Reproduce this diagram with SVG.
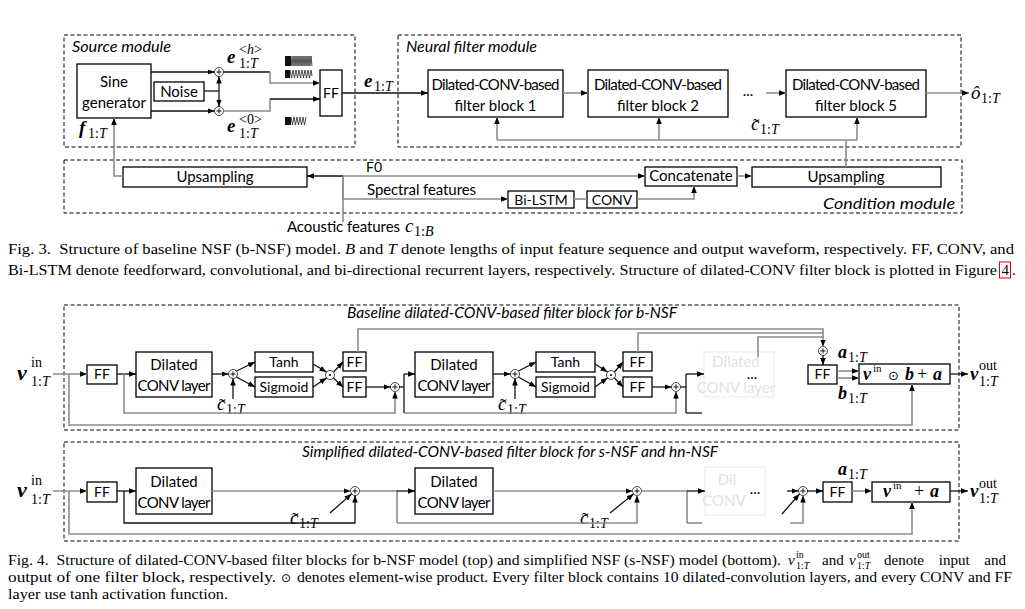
<svg xmlns="http://www.w3.org/2000/svg" xmlns:xlink="http://www.w3.org/1999/xlink" width="1025" height="609" viewBox="0 0 1025 609">
<defs>
<marker id="ah" viewBox="0 0 10 8" refX="10" refY="4" markerWidth="7" markerHeight="5.6" markerUnits="userSpaceOnUse" orient="auto"><path d="M0,0 L10,4 L0,8 z" fill="#000"/></marker>
<g id="plus"><circle cx="0" cy="0" r="4.5" fill="#fff" stroke="#444" stroke-width="1"/><path d="M-2.6,0 H2.6 M0,-2.6 V2.6" stroke="#000" stroke-width="0.9"/></g>
<g id="dotp"><circle cx="0" cy="0" r="4.5" fill="#fff" stroke="#444" stroke-width="1"/><circle cx="0" cy="0" r="1" fill="#000"/></g>
</defs>
<style>
.bx{fill:#fff;stroke:#000;stroke-width:1.3}
.fb{fill:#fff;stroke:#eeeeee;stroke-width:1.3}
.dsh{fill:none;stroke:#000;stroke-width:1;stroke-dasharray:4 2.5}
.k{fill:none;stroke:#111;stroke-width:1.3}
.g{fill:none;stroke:#8c8c8c;stroke-width:1.6}
.a{marker-end:url(#ah)}
.t{font-family:Lato,"Open Sans",sans-serif;font-size:15px;fill:#000;text-anchor:middle}
.s{font-size:14px}
.st{text-anchor:start}
.ft{fill:#e2e2e2}
.it{font-family:Lato,"Open Sans",sans-serif;font-size:15px;font-style:italic;fill:#000}
.m{font-family:"Liberation Serif","Times New Roman",serif;font-style:italic;fill:#000}
.mb{font-weight:bold}
.n{font-style:normal}
.X{font-size:22px}
.L{font-size:19px}
.M{font-size:18px}
.P{font-size:14px}
.T{font-size:14px}
.S{font-size:14px}
.U{font-size:11px}
.cap{font-family:"Liberation Serif","Times New Roman",serif;fill:#000}
.c15{font-size:15px}
.c10{font-size:10px}
.sym{font-family:"DejaVu Sans",sans-serif;fill:#000}
.wv{fill:none;stroke:#222;stroke-width:0.8}
</style>

<!-- ================= Fig. 3 ================= -->
<g id="source-module">
<rect class="dsh" x="64" y="35" width="291" height="112"/>
<text class="it" x="72" y="52" textLength="99" lengthAdjust="spacingAndGlyphs">Source module</text>
</g>
<g id="neural-filter-module">
<rect class="dsh" x="398" y="35" width="563" height="112"/>
<text class="it" x="406" y="52" textLength="131" lengthAdjust="spacingAndGlyphs">Neural filter module</text>
</g>
<g id="condition-module">
<rect class="dsh" x="64" y="160" width="898" height="53"/>
<text class="it" x="955" y="209" text-anchor="end" textLength="132" lengthAdjust="spacingAndGlyphs">Condition module</text>
</g>

<g id="sine-generator"><rect class="bx" x="77" y="64" width="74" height="54"/><text class="t" x="114" y="87">Sine</text><text class="t" x="114" y="108">generator</text></g>
<g id="noise"><rect class="bx" x="154" y="82" width="50" height="19"/><text class="t" x="179" y="97">Noise</text></g>
<g id="adder-h"><use xlink:href="#plus" x="219" y="72"/></g>
<g id="adder-0"><use xlink:href="#plus" x="219" y="111"/></g>
<g id="ff-source"><rect class="bx" x="320" y="70" width="22" height="46"/><text class="t s" x="331" y="98">FF</text></g>

<g id="waveforms">
<rect x="285" y="56" width="6" height="10" fill="#111"/>
<polyline class="wv" points="291,56 292,66 293,56 294,66 295,56 296,66 297,56 298,66 299,56 300,66 301,56 302,66 303,56 304,66 305,56 306,66 307,56 308,66 309,56 310,66 311,56 312,66"/>
<rect x="285" y="70" width="5" height="8" fill="#111"/>
<polyline class="wv" points="290,70 291.5,78 293,70 294.5,78 296,70 297.5,78 299,70 300.5,78 302,70 303.5,78 305,70 306.5,78 308,70 309.5,78 311,70 312,76"/>
<rect x="285" y="117" width="6" height="8" fill="#111"/>
<polyline class="wv" points="291,117 292.5,125 294,117 295.5,125 297,117 298.5,125 300,117 301.5,125 303,117 304.5,125 306,117"/>
</g>

<g id="nf-block1"><rect class="bx" x="428" y="70" width="135" height="47"/><text class="t" x="495.5" y="90" textLength="128">Dilated-CONV-based</text><text class="t" x="495.5" y="111">filter block 1</text></g>
<g id="nf-block2"><rect class="bx" x="588" y="70" width="140" height="47"/><text class="t" x="658" y="90" textLength="128">Dilated-CONV-based</text><text class="t" x="658" y="111">filter block 2</text></g>
<g id="nf-dots"><text class="t" x="748" y="96">...</text></g>
<g id="nf-block5"><rect class="bx" x="786" y="70" width="140" height="47"/><text class="t" x="856" y="90" textLength="128">Dilated-CONV-based</text><text class="t" x="856" y="111">filter block 5</text></g>

<g id="upsampling-f0"><rect class="bx" x="123" y="167" width="184" height="20"/><text class="t" x="215" y="182">Upsampling</text></g>
<g id="concatenate"><rect class="bx" x="645" y="167" width="92" height="19"/><text class="t" x="691" y="181">Concatenate</text></g>
<g id="upsampling-cond"><rect class="bx" x="752" y="167" width="189" height="20"/><text class="t" x="846" y="182">Upsampling</text></g>
<g id="bi-lstm"><rect class="bx" x="508" y="191" width="66" height="17"/><text class="t s" x="541" y="205">Bi-LSTM</text></g>
<g id="conv"><rect class="bx" x="587" y="191" width="50" height="17"/><text class="t s" x="612" y="205">CONV</text></g>

<g id="fig3-labels">
<text class="m mb L" x="227" y="63">e</text>
<text class="m P" x="239" y="54"><tspan class="n">&lt;</tspan>h<tspan class="n">&gt;</tspan></text>
<text class="m S" x="239" y="68"><tspan class="n">1:</tspan>T</text>
<text class="m mb L" x="227" y="132">e</text>
<text class="m P n" x="239" y="124">&lt;0&gt;</text>
<text class="m S" x="239" y="138"><tspan class="n">1:</tspan>T</text>
<text class="m mb L" x="79" y="134">f</text>
<text class="m S" x="88" y="138"><tspan class="n">1:</tspan>T</text>
<text class="m mb L" x="364" y="87">e</text>
<text class="m S" x="374" y="91"><tspan class="n">1:</tspan>T</text>
<text class="m L" x="971" y="99">ô</text>
<text class="m S" x="981" y="103"><tspan class="n">1:</tspan>T</text>
<text class="m L" x="751" y="130">c</text>
<text class="m n L" x="753" y="132">˜</text>
<text class="m S" x="760" y="134"><tspan class="n">1:</tspan>T</text>
<text class="t s" x="374" y="172">F0</text>
<text class="t st" x="367" y="195" textLength="109">Spectral features</text>
<text class="t st" x="287" y="232" textLength="113">Acoustic features</text>
<text class="m L" x="405" y="232">c</text>
<text class="m S" x="414" y="236"><tspan class="n">1:</tspan>B</text>
</g>

<g id="fig3-connectors">
<path class="k a" d="M151,72 H214.5"/>
<path class="k a" d="M151,111 H214.5"/>
<path class="k" d="M204,91 H219"/>
<path class="k a" d="M219,91 V76.5"/>
<path class="k a" d="M219,91 V106.5"/>
<path class="k" d="M223.5,72 H270"/>
<path class="g a" d="M270,72 V83 H320"/>
<path class="g" d="M223.5,111 H270 V99"/>
<path class="k a" d="M270,99 H320"/>
<path class="k a" d="M342,93 H428"/>
<path class="g a" d="M563,93 H588"/>
<path class="g a" d="M766,93 H786"/>
<path class="g a" d="M926,93 H969"/>
<path class="g" d="M846,167 V140"/>
<path class="g" d="M497,140 H857"/>
<path class="g a" d="M497,140 V117"/>
<path class="g a" d="M659,140 V117"/>
<path class="g a" d="M857,140 V117"/>
<path class="g a" d="M123,176 H114 V118"/>
<path class="g" d="M343,222 V176"/>
<path class="k a" d="M343,176 H307"/>
<path class="g a" d="M343,176 H645"/>
<path class="g a" d="M343,176 V199 H508"/>
<path class="g" d="M574,199 H587"/>
<path class="g a" d="M637,199 H694 V186"/>
<path class="g a" d="M737,176 H752"/>
</g>

<!-- ================= Fig. 3 caption ================= -->
<g id="caption-fig3">
<text class="cap c15" x="8" y="254" textLength="1006" lengthAdjust="spacingAndGlyphs">Fig. 3.&#160; Structure of baseline NSF (b-NSF) model. <tspan font-style="italic">B</tspan> and <tspan font-style="italic">T</tspan> denote lengths of input feature sequence and output waveform, respectively. FF, CONV, and</text>
<text class="cap c15" x="8" y="275" textLength="989" lengthAdjust="spacingAndGlyphs">Bi-LSTM denote feedforward, convolutional, and bi-directional recurrent layers, respectively. Structure of dilated-CONV filter block is plotted in Figure</text>
<rect x="999.5" y="262" width="11" height="16" fill="none" stroke="#d00" stroke-width="1"/>
<text class="cap c15" x="1001.5" y="275">4</text>
<text class="cap c15" x="1012" y="275">.</text>
</g>

<!-- ================= Fig. 4 top (baseline) ================= -->
<g id="baseline-block-frame">
<rect class="dsh" x="64" y="305" width="895" height="125"/>
<text class="it" x="347" y="318" textLength="330" lengthAdjust="spacingAndGlyphs">Baseline dilated-CONV-based filter block for b-NSF</text>
</g>
<g id="b-ff-in"><rect class="bx" x="87" y="365" width="30" height="19"/><text class="t s" x="102" y="379">FF</text></g>
<g id="b-dilated1"><rect class="bx" x="136" y="352" width="76" height="45"/><text class="t" x="174" y="370">Dilated</text><text class="t" x="174" y="391" textLength="73">CONV layer</text></g>
<g id="b-add1"><use xlink:href="#plus" x="233" y="374"/></g>
<g id="b-tanh1"><rect class="bx" x="255" y="352" width="58" height="20"/><text class="t s" x="284" y="367">Tanh</text></g>
<g id="b-sigmoid1"><rect class="bx" x="255" y="377" width="58" height="20"/><text class="t s" x="284" y="392">Sigmoid</text></g>
<g id="b-dot1"><use xlink:href="#dotp" x="330" y="375"/></g>
<g id="b-ff1a"><rect class="bx" x="343" y="352" width="23" height="19"/><text class="t s" x="354.5" y="367">FF</text></g>
<g id="b-ff1b"><rect class="bx" x="343" y="377" width="23" height="20"/><text class="t s" x="354.5" y="392">FF</text></g>
<g id="b-res1"><use xlink:href="#plus" x="395" y="387"/></g>

<g id="b-dilated2"><rect class="bx" x="415" y="352" width="78" height="45"/><text class="t" x="454" y="370">Dilated</text><text class="t" x="454" y="391" textLength="73">CONV layer</text></g>
<g id="b-add2"><use xlink:href="#plus" x="515" y="374"/></g>
<g id="b-tanh2"><rect class="bx" x="536" y="352" width="59" height="20"/><text class="t s" x="565.5" y="367">Tanh</text></g>
<g id="b-sigmoid2"><rect class="bx" x="536" y="377" width="59" height="20"/><text class="t s" x="565.5" y="392">Sigmoid</text></g>
<g id="b-dot2"><use xlink:href="#dotp" x="611" y="375"/></g>
<g id="b-ff2a"><rect class="bx" x="623" y="352" width="29" height="19"/><text class="t s" x="637.5" y="367">FF</text></g>
<g id="b-ff2b"><rect class="bx" x="623" y="377" width="29" height="20"/><text class="t s" x="637.5" y="392">FF</text></g>
<g id="b-res2"><use xlink:href="#plus" x="676" y="387"/></g>

<g id="b-dilated-faded"><rect class="fb" x="704" y="352" width="70" height="45"/><text class="t ft" x="736" y="367">Dilated</text><text class="t ft" x="736" y="393">CONV layer</text><text class="t" x="752" y="379">...</text></g>
<g id="b-sum"><use xlink:href="#plus" x="823" y="351"/></g>
<g id="b-ff-out"><rect class="bx" x="808" y="365" width="29" height="19"/><text class="t s" x="822.5" y="379">FF</text></g>
<g id="b-output"><rect class="bx" x="859" y="364" width="91" height="20"/>
<text class="m mb M" x="863" y="380">v</text>
<text class="m n U" x="873" y="372">in</text>
<text class="sym" x="888" y="380" font-size="13">⊙</text>
<text class="m mb M" x="905" y="380">b</text>
<text class="m n M" x="917" y="380">+</text>
<text class="m mb M" x="933" y="380">a</text>
</g>

<g id="fig4-top-labels">
<text class="m mb X" x="17" y="380">v</text>
<text class="m n T" x="31" y="367">in</text>
<text class="m T" x="31" y="386"><tspan class="n">1:</tspan>T</text>
<text class="m L" x="217" y="410">c</text>
<text class="m n L" x="219" y="412">˜</text>
<text class="m S" x="226" y="414"><tspan class="n">1:</tspan>T</text>
<text class="m L" x="498" y="410">c</text>
<text class="m n L" x="500" y="412">˜</text>
<text class="m S" x="507" y="414"><tspan class="n">1:</tspan>T</text>
<text class="m mb M" x="838" y="358">a</text>
<text class="m S" x="848" y="362"><tspan class="n">1:</tspan>T</text>
<text class="m mb M" x="838" y="399">b</text>
<text class="m S" x="848" y="403"><tspan class="n">1:</tspan>T</text>
<text class="m mb L" x="970" y="380">v</text>
<text class="m n S" x="979" y="370">out</text>
<text class="m S" x="979" y="386"><tspan class="n">1:</tspan>T</text>
</g>

<g id="fig4-top-connectors">
<path class="g a" d="M53,374 H87"/>
<path class="g a" d="M69,374 V425 H912 V384"/>
<path class="k a" d="M117,374 H136"/>
<path class="g a" d="M124,374 V413 H395 V391.5"/>
<path class="k a" d="M212,374 H228.5"/>
<path class="k a" d="M233,399 V378.5"/>
<path class="k a" d="M236.5,371 L255,362"/>
<path class="k a" d="M236.5,377 L255,387"/>
<path class="k a" d="M313,364 L326.5,372"/>
<path class="k a" d="M313,387 L326.5,378"/>
<path class="k a" d="M333.5,372 L343,362"/>
<path class="k a" d="M333.5,378 L343,387"/>
<path class="k a" d="M366,387 H390.5"/>
<path class="g a" d="M358,352 V329 H823 V346.5"/>
<path class="k" d="M399.5,387 H404"/>
<path class="k" d="M404,374 V413"/>
<path class="k a" d="M404,374 H415"/>
<path class="g a" d="M404,413 H676 V391.5"/>
<path class="k a" d="M493,374 H510.5"/>
<path class="k a" d="M515,399 V378.5"/>
<path class="k a" d="M518.5,371 L536,362"/>
<path class="k a" d="M518.5,377 L536,387"/>
<path class="k a" d="M595,364 L607.5,372"/>
<path class="k a" d="M595,387 L607.5,378"/>
<path class="k a" d="M614.5,372 L623,362"/>
<path class="k a" d="M614.5,378 L623,387"/>
<path class="k a" d="M652,387 H671.5"/>
<path class="g" d="M638,352 V333 H823"/>
<path class="k" d="M680.5,387 H686"/>
<path class="k" d="M686,374 V413"/>
<path class="k a" d="M686,374 H704"/>
<path class="k" d="M686,413 H702"/>
<path class="g" d="M758,357 V337 H823"/>
<path class="k a" d="M823,355.5 V365"/>
<path class="g a" d="M837,371 H859"/>
<path class="g a" d="M837,378 H859"/>
<path class="k a" d="M950,374 H968"/>
</g>

<!-- ================= Fig. 4 bottom (simplified) ================= -->
<g id="simplified-block-frame">
<rect class="dsh" x="64" y="442" width="895" height="99"/>
<text class="it" x="302" y="457" textLength="416" lengthAdjust="spacingAndGlyphs">Simplified dilated-CONV-based filter block for s-NSF and hn-NSF</text>
</g>
<g id="s-ff-in"><rect class="bx" x="87" y="482" width="30" height="20"/><text class="t s" x="102" y="497">FF</text></g>
<g id="s-dilated1"><rect class="bx" x="136" y="468" width="76" height="46"/><text class="t" x="174" y="487">Dilated</text><text class="t" x="174" y="508" textLength="73">CONV layer</text></g>
<g id="s-add1"><use xlink:href="#plus" x="355" y="491"/></g>
<g id="s-dilated2"><rect class="bx" x="415" y="468" width="78" height="46"/><text class="t" x="454" y="487">Dilated</text><text class="t" x="454" y="508" textLength="73">CONV layer</text></g>
<g id="s-add2"><use xlink:href="#plus" x="637" y="491"/></g>
<g id="s-dilated-faded"><rect class="fb" x="705" y="467" width="60" height="48"/><text class="t ft" x="727" y="485">Dil</text><text class="t ft" x="724" y="506">CONV</text><text class="t" x="755" y="494">...</text></g>
<g id="s-add3"><use xlink:href="#plus" x="803" y="491"/></g>
<g id="s-ff-out"><rect class="bx" x="823" y="482" width="29" height="20"/><text class="t s" x="837.5" y="497">FF</text></g>
<g id="s-output"><rect class="bx" x="872" y="482" width="78" height="20"/>
<text class="m mb M" x="883" y="497">v</text>
<text class="m n U" x="893" y="489">in</text>
<text class="m n M" x="914" y="497">+</text>
<text class="m mb M" x="930" y="497">a</text>
</g>

<g id="fig4-bottom-labels">
<text class="m mb X" x="17" y="497">v</text>
<text class="m n T" x="31" y="485">in</text>
<text class="m T" x="31" y="504"><tspan class="n">1:</tspan>T</text>
<text class="m L" x="290" y="524">c</text>
<text class="m n L" x="292" y="526">˜</text>
<text class="m S" x="299" y="528"><tspan class="n">1:</tspan>T</text>
<text class="m L" x="580" y="524">c</text>
<text class="m n L" x="582" y="526">˜</text>
<text class="m S" x="589" y="528"><tspan class="n">1:</tspan>T</text>
<text class="m mb M" x="838" y="475">a</text>
<text class="m S" x="848" y="479"><tspan class="n">1:</tspan>T</text>
<text class="m mb L" x="970" y="497">v</text>
<text class="m n S" x="979" y="488">out</text>
<text class="m S" x="979" y="503"><tspan class="n">1:</tspan>T</text>
</g>

<g id="fig4-bottom-connectors">
<path class="g a" d="M53,491 H87"/>
<path class="g a" d="M69,491 V534 H912 V502"/>
<path class="k a" d="M117,491 H136"/>
<path class="k a" d="M124,491 V523 H355 V495.5"/>
<path class="g a" d="M212,491 H350.5"/>
<path class="k a" d="M330,513 L351.5,494"/>
<path class="g" d="M359.5,491 H397 V523"/>
<path class="k a" d="M397,491 H415"/>
<path class="g a" d="M397,523 H637 V495.5"/>
<path class="g a" d="M493,491 H632.5"/>
<path class="k a" d="M610,513 L633.5,494"/>
<path class="g" d="M641.5,491 H687 V523"/>
<path class="k a" d="M687,491 H705"/>
<path class="g" d="M687,523 H702"/>
<path class="k a" d="M787,491 H798.5"/>
<path class="k a" d="M782,514 L799.5,494"/>
<path class="g a" d="M790,523 H803 V495.5"/>
<path class="k a" d="M807.5,491 H823"/>
<path class="g a" d="M852,491 H872"/>
<path class="k a" d="M950,491 H968"/>
</g>

<!-- ================= Fig. 4 caption ================= -->
<g id="caption-fig4">
<text class="cap c15" x="8" y="565" textLength="773" lengthAdjust="spacingAndGlyphs">Fig. 4.&#160; Structure of dilated-CONV-based filter blocks for b-NSF model (top) and simplified NSF (s-NSF) model (bottom).</text>
<text class="cap c15" x="788" y="565" font-style="italic">v</text>
<text class="cap c10" x="796" y="558">in</text>
<text class="cap c10" x="796" y="569">1:<tspan font-style="italic">T</tspan></text>
<text class="cap c15" x="822" y="565">and</text>
<text class="cap c15" x="849" y="565" font-style="italic">v</text>
<text class="cap c10" x="857" y="558">out</text>
<text class="cap c10" x="857" y="569">1:<tspan font-style="italic">T</tspan></text>
<text class="cap c15" x="884" y="565" word-spacing="11">denote input and</text>
<text class="cap c15" x="8" y="582" textLength="268" lengthAdjust="spacingAndGlyphs">output of one filter block, respectively.</text>
<text class="sym" x="281" y="582" font-size="12">⊙</text>
<text class="cap c15" x="297" y="582" textLength="715" lengthAdjust="spacingAndGlyphs">denotes element-wise product. Every filter block contains 10 dilated-convolution layers, and every CONV and FF</text>
<text class="cap c15" x="8" y="599" textLength="220" lengthAdjust="spacingAndGlyphs">layer use tanh activation function.</text>
</g>
</svg>
